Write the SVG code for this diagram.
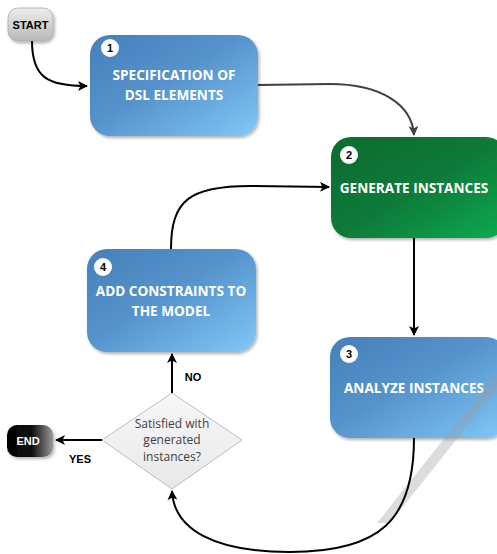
<svg xmlns="http://www.w3.org/2000/svg" width="497" height="554" viewBox="0 0 497 554">
<style>
.box{stroke:none;filter:url(#sh)}
.lbl{font-family:"Open Sans","Liberation Sans",sans-serif;font-weight:bold;font-size:13.6px;fill:#fff;text-anchor:middle}
.num{font-family:"Liberation Sans",sans-serif;font-weight:bold;font-size:11px;fill:#000;text-anchor:middle}
.small{font-family:"Liberation Sans",sans-serif;font-weight:bold;font-size:11px;text-anchor:middle}
.q{font-family:"Open Sans","Liberation Sans",sans-serif;font-size:12px;fill:#404040;text-anchor:middle}
.con{fill:none;stroke:#000;stroke-width:2}
</style>
<defs>
<linearGradient id="blue" x1="0" y1="0" x2="1" y2="1">
<stop offset="0" stop-color="#4680ba"/>
<stop offset="0.45" stop-color="#5592cb"/>
<stop offset="1" stop-color="#80c8f8"/>
</linearGradient>
<linearGradient id="green" x1="0" y1="0" x2="1" y2="1">
<stop offset="0" stop-color="#0a6b30"/>
<stop offset="0.5" stop-color="#0a7a38"/>
<stop offset="1" stop-color="#0cab50"/>
</linearGradient>
<linearGradient id="gray" x1="0" y1="0" x2="0" y2="1">
<stop offset="0" stop-color="#eeeeee"/>
<stop offset="1" stop-color="#b8b8b8"/>
</linearGradient>
<linearGradient id="black" x1="0" y1="0" x2="1" y2="0">
<stop offset="0" stop-color="#000"/>
<stop offset="0.55" stop-color="#111"/>
<stop offset="1" stop-color="#9a9a9a"/>
</linearGradient>
<linearGradient id="dia" x1="0" y1="0" x2="0" y2="1">
<stop offset="0" stop-color="#f8f8f8"/>
<stop offset="1" stop-color="#e8e8e8"/>
</linearGradient>
<filter id="sh" x="-10%" y="-10%" width="125%" height="130%">
<feDropShadow dx="1.5" dy="2" stdDeviation="1.5" flood-color="#000" flood-opacity="0.3"/>
</filter>
<marker id="ar" viewBox="0 0 10 10" refX="9" refY="5" markerWidth="5" markerHeight="5" orient="auto" markerUnits="strokeWidth">
<path d="M0,0 L10,5 L0,10 L2.5,5 z" fill="#000"/>
</marker>
<marker id="arg" viewBox="0 0 10 10" refX="9" refY="5" markerWidth="5" markerHeight="5" orient="auto" markerUnits="strokeWidth">
<path d="M0,0 L10,5 L0,10 L2.5,5 z" fill="#404040"/>
</marker>
</defs>
<rect width="497" height="554" fill="#fff"/>

<g id="start">
<rect x="8" y="8" width="45" height="33" rx="10" fill="url(#gray)" stroke="#aaa" stroke-width="0.8" filter="url(#sh)"/>
<text class="small" x="30.5" y="28.5" fill="#000">START</text>
</g>

<g id="node1">
<rect class="box" x="90" y="35" width="168" height="101" rx="20" fill="url(#blue)"/>
<circle cx="110" cy="48" r="9" fill="#fff"/>
<text class="num" x="110" y="52">1</text>
<text class="lbl" x="174" y="80">SPECIFICATION OF</text>
<text class="lbl" x="174" y="100">DSL ELEMENTS</text>
</g>

<g id="node2">
<rect class="box" x="331" y="137" width="175" height="101" rx="20" fill="url(#green)"/>
<circle cx="349" cy="155" r="9" fill="#fff"/>
<text class="num" x="349" y="159">2</text>
<text class="lbl" x="414" y="193">GENERATE INSTANCES</text>
</g>

<g id="node3">
<rect class="box" x="330" y="337" width="176" height="101" rx="20" fill="url(#blue)"/>
<circle cx="349" cy="354" r="9" fill="#fff"/>
<text class="num" x="349" y="358">3</text>
<text class="lbl" x="414" y="393">ANALYZE INSTANCES</text>
</g>

<g id="node4">
<rect class="box" x="87" y="249" width="169" height="103" rx="20" fill="url(#blue)"/>
<circle cx="103" cy="267" r="9" fill="#fff"/>
<text class="num" x="103" y="271">4</text>
<text class="lbl" x="171" y="296">ADD CONSTRAINTS TO</text>
<text class="lbl" x="171" y="315.5">THE MODEL</text>
</g>

<g id="decision">
<polygon points="172,393 242,440 172,489 102,440" fill="url(#dia)" stroke="#bdbdbd" stroke-width="1"/>
<text class="q" x="172" y="428">Satisfied with</text>
<text class="q" x="172" y="444">generated</text>
<text class="q" x="172" y="461">instances?</text>
</g>

<g id="end">
<rect x="7" y="425" width="46" height="32" rx="10" fill="url(#black)" filter="url(#sh)"/>
<text class="small" x="28" y="445" fill="#fff">END</text>
</g>

<polygon points="494,376 507,376 390,523 377,523" fill="#9a9a9a" opacity="0.35"/>

<g id="connectors">
<path class="con" d="M32,41 C32,78 48,86 87,86" marker-end="url(#ar)"/>
<path class="con" style="stroke:#404040" d="M258,85 L330,84 C380,84 412,104 414,135" marker-end="url(#arg)"/>
<path class="con" d="M171,249 C171,200 190,186 250,186 L329,187" marker-end="url(#ar)"/>
<path class="con" d="M414,238 L414,335" marker-end="url(#ar)"/>
<path class="con" d="M414,438 C414,520 380,552 290,552 C215,552 174,530 172,491" marker-end="url(#ar)"/>
<path class="con" d="M172,393 L172,354" marker-end="url(#ar)"/>
<path class="con" d="M102,440 L56,440" marker-end="url(#ar)"/>
<text class="small" x="193" y="381" fill="#000">NO</text>
<text class="small" x="80" y="463" fill="#000">YES</text>
</g>
</svg>
